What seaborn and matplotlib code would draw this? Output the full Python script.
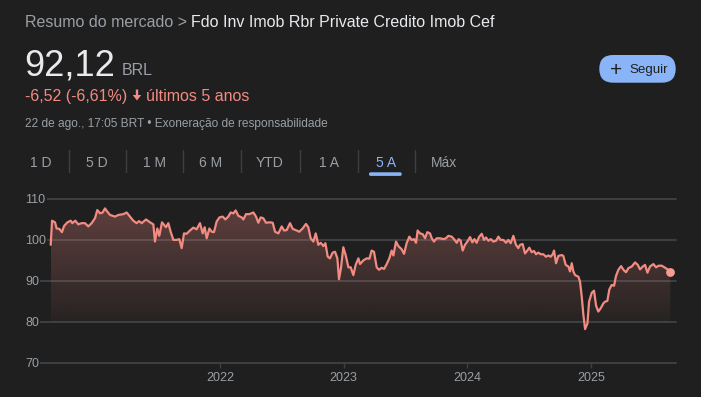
import numpy as np
import pandas as pd
import matplotlib
matplotlib.use("Agg")
import matplotlib.pyplot as plt
import seaborn as sns
from matplotlib.patches import FancyBboxPatch, FancyArrow

# price series (x as decimal year)
years = [
    2020.631, 2020.642, 2020.666, 2020.679, 2020.701, 2020.722, 2020.739, 2020.766, 2020.793, 2020.806,
    2020.830, 2020.854, 2020.881, 2020.908, 2020.935, 2020.962, 2020.989, 2021.008, 2021.030, 2021.051,
    2021.070, 2021.089, 2021.111, 2021.151, 2021.178, 2021.218, 2021.245, 2021.272, 2021.299, 2021.326,
    2021.345, 2021.367, 2021.402, 2021.434, 2021.461, 2021.474, 2021.493, 2021.509, 2021.531, 2021.547,
    2021.563, 2021.582, 2021.601, 2021.623, 2021.650, 2021.671, 2021.690, 2021.709, 2021.730, 2021.757,
    2021.784, 2021.811, 2021.838, 2021.860, 2021.876, 2021.892, 2021.914, 2021.933, 2021.951, 2021.973,
    2021.995, 2022.022, 2022.043, 2022.067, 2022.086, 2022.108, 2022.127, 2022.148, 2022.175, 2022.189,
    2022.210, 2022.237, 2022.270, 2022.291, 2022.310, 2022.329, 2022.350, 2022.372, 2022.404, 2022.426,
    2022.445, 2022.472, 2022.499, 2022.518, 2022.539, 2022.566, 2022.588, 2022.620, 2022.641, 2022.668,
    2022.695, 2022.714, 2022.733, 2022.755, 2022.774, 2022.795, 2022.814, 2022.836, 2022.852, 2022.871,
    2022.889, 2022.911, 2022.930, 2022.949, 2022.962, 2022.978, 2022.997, 2023.016, 2023.038, 2023.057,
    2023.078, 2023.097, 2023.119, 2023.132, 2023.159, 2023.186, 2023.208, 2023.226, 2023.245, 2023.267,
    2023.286, 2023.307, 2023.326, 2023.348, 2023.369, 2023.388, 2023.402, 2023.423, 2023.442, 2023.469,
    2023.488, 2023.509, 2023.531, 2023.550, 2023.569, 2023.585, 2023.598, 2023.617, 2023.639, 2023.658,
    2023.676, 2023.698, 2023.712, 2023.730, 2023.752, 2023.779, 2023.806, 2023.827, 2023.846, 2023.873,
    2023.892, 2023.914, 2023.930, 2023.946, 2023.962, 2023.981, 2024.000, 2024.022, 2024.040, 2024.057,
    2024.075, 2024.094, 2024.116, 2024.135, 2024.151, 2024.170, 2024.189, 2024.210, 2024.232, 2024.251,
    2024.269, 2024.291, 2024.313, 2024.331, 2024.350, 2024.372, 2024.393, 2024.412, 2024.426, 2024.447,
    2024.466, 2024.485, 2024.501, 2024.520, 2024.539, 2024.555, 2024.574, 2024.593, 2024.614, 2024.636,
    2024.655, 2024.674, 2024.690, 2024.701, 2024.717, 2024.736, 2024.763, 2024.776, 2024.795, 2024.817,
    2024.830, 2024.844, 2024.857, 2024.871, 2024.898, 2024.911, 2024.925, 2024.938, 2024.952, 2024.971,
    2024.984, 2025.006, 2025.024, 2025.041, 2025.059, 2025.078, 2025.100, 2025.113, 2025.132, 2025.148,
    2025.167, 2025.186, 2025.202, 2025.221, 2025.243, 2025.262, 2025.283, 2025.302, 2025.329, 2025.356,
    2025.378, 2025.396, 2025.418, 2025.437, 2025.456, 2025.477, 2025.504, 2025.526, 2025.545, 2025.572,
    2025.599, 2025.620, 2025.641,
]
prices = [
    98.8, 104.7, 104.3, 102.8, 102.7, 101.9, 103.4, 104.3, 104.7, 104.1,
    104.7, 103.8, 104.1, 104.1, 103.3, 104.1, 105.3, 107.3, 106.5, 106.7,
    107.7, 106.9, 106.1, 105.7, 106.1, 106.3, 106.7, 105.7, 104.7, 104.1,
    104.6, 104.1, 105.0, 104.3, 103.8, 99.6, 102.8, 101.0, 104.3, 103.7,
    103.1, 104.1, 102.0, 100.0, 100.0, 100.2, 98.0, 101.6, 101.5, 102.3,
    103.0, 102.6, 104.1, 101.6, 103.1, 100.4, 102.8, 102.0, 101.9, 104.5,
    105.5, 105.7, 105.0, 105.7, 106.7, 106.5, 107.2, 105.9, 105.5, 105.0,
    106.3, 106.3, 106.7, 105.7, 104.2, 105.5, 105.3, 104.2, 104.3, 104.2,
    102.0, 101.6, 103.3, 102.3, 102.4, 104.1, 102.7, 102.3, 102.0, 102.8,
    103.9, 103.1, 100.4, 99.6, 101.6, 98.8, 99.3, 98.5, 99.2, 95.9,
    95.5, 96.9, 97.1, 95.5, 90.4, 93.1, 98.2, 96.3, 93.3, 93.3,
    91.4, 93.9, 95.5, 94.1, 95.0, 95.5, 95.4, 97.4, 97.1, 93.3,
    92.7, 93.2, 92.9, 94.1, 95.5, 97.4, 96.2, 99.6, 98.5, 97.7,
    96.6, 99.2, 100.8, 100.0, 100.2, 99.3, 102.3, 101.6, 101.4, 100.4,
    101.9, 101.6, 100.4, 99.6, 100.4, 100.4, 100.2, 100.4, 101.0, 100.8,
    100.2, 99.3, 100.2, 99.8, 97.4, 98.8, 99.6, 100.7, 99.4, 100.2,
    99.3, 100.7, 101.5, 100.0, 100.6, 99.8, 100.2, 99.6, 99.8, 100.8,
    100.0, 100.0, 99.3, 100.0, 99.2, 101.0, 98.8, 98.0, 98.8, 99.0,
    96.7, 97.4, 98.1, 97.0, 97.3, 96.5, 96.9, 96.5, 96.5, 95.9,
    96.2, 95.9, 96.5, 97.4, 94.3, 96.1, 96.3, 96.1, 93.9, 93.5,
    92.3, 94.3, 92.3, 91.4, 91.0, 89.8, 86.1, 81.7, 78.2, 79.6,
    84.9, 87.1, 87.6, 83.9, 82.5, 83.3, 84.5, 84.9, 85.1, 87.9,
    89.0, 88.8, 91.2, 92.7, 93.6, 92.7, 92.1, 93.1, 93.5, 94.5,
    93.9, 92.8, 93.5, 93.9, 92.0, 93.5, 94.1, 93.3, 93.7, 93.7,
    93.2, 92.8, 92.12,
]
y_ticks = [70, 80, 90, 100, 110]
x_ticks = [2022, 2023, 2024, 2025]
x_labels = ["2022", "2023", "2024", "2025"]
tabs = ["1 D", "5 D", "1 M", "6 M", "YTD", "1 A", "5 A", "Máx"]

BG = "#1f1f1f"
LINE = "#f28b82"
GRID = "#3c4043"
MUTED = "#9aa0a6"
WHITE = "#e8eaed"
BLUE = "#8ab4f8"

sns.set_theme(style="dark", rc={"axes.facecolor": "none", "figure.facecolor": BG})
plt.rcParams["font.family"] = ["Liberation Sans", "DejaVu Sans"]

W, H = 701, 397
fig = plt.figure(figsize=(W / 100, H / 100), dpi=100)

# header drawn in pixel coordinates
hdr = fig.add_axes([0, 0, 1, 1], zorder=0)
hdr.set_xlim(0, W)
hdr.set_ylim(H, 0)
hdr.axis("off")

hdr.text(24.6, 27.3, "Resumo do mercado > ", color=MUTED, fontsize=11.5, va="baseline")
hdr.text(191, 27.3, "Fdo Inv Imob Rbr Private Credito Imob Cef", color=WHITE, fontsize=11.5, va="baseline")
hdr.text(24.6, 75, "92,12", color=WHITE, fontsize=26, va="baseline")
hdr.text(122, 75, "BRL", color=MUTED, fontsize=11.5, va="baseline")
hdr.text(24.6, 100.7, "-6,52 (-6,61%)", color=LINE, fontsize=11.5, va="baseline")
hdr.add_patch(FancyArrow(137, 89.5, 0, 11, width=2.4, head_width=8.5, head_length=5.5,
                         length_includes_head=True, fc=LINE, ec="none"))
hdr.text(146, 100.7, "últimos 5 anos", color=LINE, fontsize=11.5, va="baseline")
hdr.text(24.6, 126.7, "22 de ago., 17:05 BRT • Exoneração de responsabilidade",
         color=MUTED, fontsize=8.6, va="baseline")

btn = FancyBboxPatch((599.3, 55), 76.4, 27.7, boxstyle="round,pad=0,rounding_size=13.8",
                     fc=BLUE, ec="none")
hdr.add_patch(btn)
hdr.text(616, 70.5, "+", color="#1f1f1f", fontsize=15, ha="center", va="center")
hdr.text(629.5, 69.5, "Seguir", color="#1f1f1f", fontsize=9.6, ha="left", va="center")

tab_x = [40.3, 96.8, 154.3, 211, 270, 329.3, 386.3, 444]
for i, (tx, name) in enumerate(zip(tab_x, tabs)):
    hdr.text(tx, 166.7, name, color=BLUE if name == "5 A" else MUTED,
             fontsize=10, ha="center", va="baseline")
    if i < len(tabs) - 1:
        mid = (tx + tab_x[i + 1]) / 2
        hdr.plot([mid, mid], [150, 171.7], color=GRID, lw=1)
hdr.add_patch(FancyBboxPatch((369, 172.3), 32.7, 3.6, boxstyle="round,pad=0,rounding_size=1.6",
                             fc=BLUE, ec="none"))

# price chart
ax = fig.add_axes([40 / W, 1 - 362.7 / H, (676 - 40) / W, (362.7 - 199) / H], zorder=1)
df = pd.DataFrame({"year": years, "price": prices})
sns.lineplot(data=df, x="year", y="price", color=LINE, lw=1.6, ax=ax, zorder=4)

poly = ax.fill_between(years, prices, 80, color="none", lw=0)
rgb = matplotlib.colors.to_rgb(LINE)
n = 200
grad = np.zeros((n, 1, 4))
grad[:, 0, :3] = rgb
grad[:, 0, 3] = np.linspace(0.04, 0.30, n)
img = ax.imshow(grad, extent=[years[0], years[-1], 80, 108], origin="lower",
                aspect="auto", zorder=2, interpolation="bilinear")
img.set_clip_path(poly.get_paths()[0], transform=ax.transData)

ax.scatter([years[-1]], [prices[-1]], s=40, color="#f59b93", zorder=5, linewidths=0)

ax.set_xlim(2020.5445, 2025.687)
ax.set_ylim(70, 110)
ax.set_yticks(y_ticks)
ax.set_xticks(x_ticks)
ax.set_xticklabels(x_labels)
ax.set_xlabel("")
ax.set_ylabel("")
for s in ax.spines.values():
    s.set_visible(False)
ax.grid(False)
ax.set_axisbelow(False)  # tick labels above the grid lines
for yv in y_ticks:
    ax.axhline(yv, color=GRID, lw=1.4, zorder=1, clip_on=False)
ax.tick_params(axis="y", length=0, pad=10.8, labelsize=9, labelcolor=MUTED)
ax.tick_params(axis="x", length=3.6, width=1, color=GRID, direction="out", pad=3,
               labelsize=9, labelcolor=MUTED, bottom=True)
for lab in ax.get_yticklabels():
    lab.set_horizontalalignment("left")
    lab.set_bbox(dict(fc=BG, ec="none", pad=1))

fig.savefig("out.png", dpi=100, facecolor=BG)
